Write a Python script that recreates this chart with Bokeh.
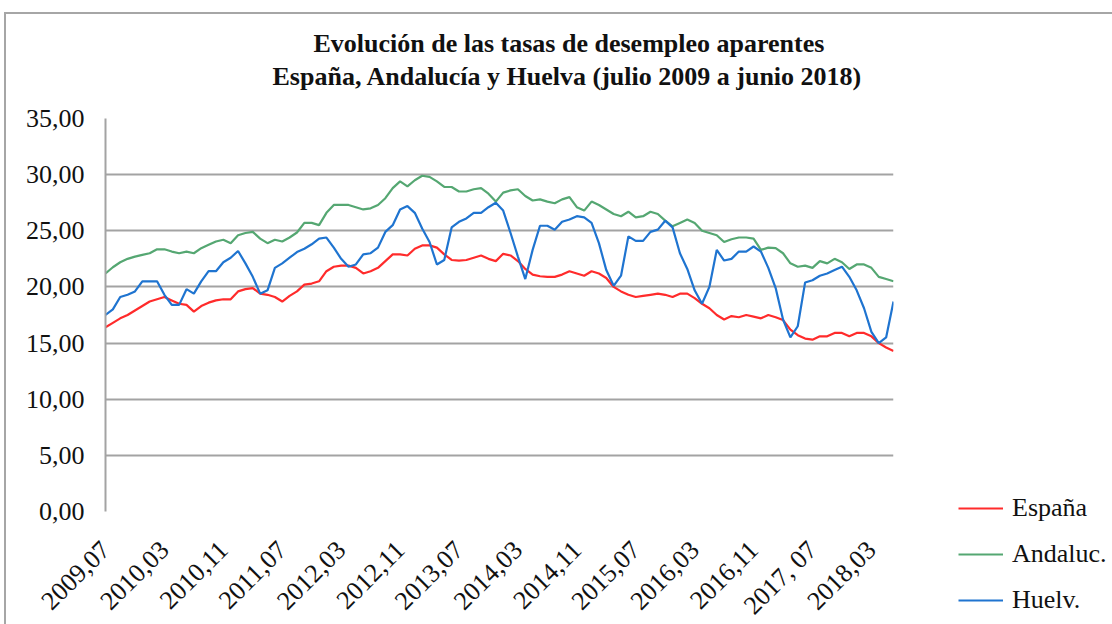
import math
from bokeh.plotting import figure
from bokeh.models import Range1d, FixedTicker, Legend, LegendItem, Title
from bokeh.embed import file_html
from bokeh.resources import INLINE

# ---- data (monthly, julio 2009 .. junio 2018) ----
espana = [16.4, 16.8, 17.2, 17.5, 17.9, 18.3, 18.7, 18.9, 19.1, 18.8,
          18.5, 18.4, 17.8, 18.3, 18.6, 18.8, 18.9, 18.9, 19.6, 19.8,
          19.9, 19.4, 19.3, 19.1, 18.7, 19.2, 19.6, 20.2, 20.3, 20.5,
          21.4, 21.8, 21.9, 21.9, 21.7, 21.2, 21.4, 21.7, 22.3, 22.9,
          22.9, 22.8, 23.4, 23.7, 23.7, 23.5, 22.9, 22.4, 22.35, 22.4,
          22.6, 22.8, 22.5, 22.3, 22.95, 22.8, 22.3, 21.6, 21.1, 20.95,
          20.9, 20.9, 21.1, 21.4, 21.2, 21.0, 21.4, 21.2, 20.8, 20.0,
          19.6, 19.3, 19.1, 19.2, 19.3, 19.4, 19.3, 19.1, 19.4, 19.4,
          19.0, 18.5, 18.1, 17.5, 17.1, 17.4, 17.3, 17.5, 17.35, 17.2,
          17.5, 17.3, 17.05, 16.2, 15.7, 15.4, 15.3, 15.6, 15.6, 15.9,
          15.9, 15.6, 15.9, 15.9, 15.6, 15.0, 14.6, 14.3]

andaluc = [21.2, 21.75, 22.2, 22.5, 22.7, 22.85, 23.0, 23.35, 23.35, 23.15,
           23.0, 23.15, 23.0, 23.45, 23.75, 24.05, 24.2, 23.9, 24.6, 24.8,
           24.9, 24.3, 23.9, 24.2, 24.05, 24.4, 24.85, 25.7, 25.7, 25.5,
           26.6, 27.3, 27.3, 27.3, 27.1, 26.9, 27.0, 27.3, 27.9, 28.8,
           29.4, 28.96, 29.5, 29.9, 29.8, 29.4, 28.9, 28.9, 28.5, 28.5,
           28.7, 28.8, 28.3, 27.6, 28.4, 28.6, 28.7, 28.1, 27.7, 27.8,
           27.6, 27.45, 27.8, 28.0, 27.1, 26.8, 27.6, 27.3, 26.9, 26.5,
           26.3, 26.7, 26.2, 26.3, 26.7, 26.5, 25.9, 25.4, 25.7, 26.0,
           25.7, 25.0, 24.8, 24.6, 24.0, 24.25, 24.4, 24.4, 24.3, 23.3,
           23.5, 23.45, 23.0, 22.1, 21.8, 21.9, 21.7, 22.3, 22.1, 22.5,
           22.2, 21.6, 22.0, 22.0, 21.7, 20.9, 20.7, 20.5]

huelva = [17.5, 18.0, 19.1, 19.3, 19.6, 20.5, 20.5, 20.5, 19.3, 18.4,
          18.4, 19.8, 19.4, 20.5, 21.4, 21.4, 22.2, 22.6, 23.2, 22.1,
          20.9, 19.4, 19.7, 21.7, 22.1, 22.6, 23.1, 23.4, 23.8, 24.3,
          24.4, 23.5, 22.5, 21.8, 22.0, 22.9, 23.0, 23.5, 24.9, 25.5,
          26.9, 27.2, 26.6, 25.2, 24.0, 22.0, 22.4, 25.3, 25.8, 26.1,
          26.6, 26.6, 27.1, 27.5, 26.8, 24.8, 22.7, 20.7, 23.3, 25.45,
          25.45, 25.1, 25.8, 26.0, 26.3, 26.2, 25.7, 23.9, 21.5, 20.1,
          21.0, 24.5, 24.1, 24.1, 24.9, 25.1, 25.9, 25.3, 23.0, 21.6,
          19.7, 18.5, 20.0, 23.3, 22.35, 22.5, 23.15, 23.15, 23.6, 23.15,
          21.7, 19.9, 17.1, 15.5, 16.5, 20.4, 20.6, 21.0, 21.2, 21.5,
          21.8, 20.9, 19.7, 18.1, 16.0, 15.0, 15.5, 18.7]

tick_labels = ["2009,07", "2010,03", "2010,11", "2011,07", "2012,03",
               "2012,11", "2013,07", "2014,03", "2014,11", "2015,07",
               "2016,03", "2016,11", "2017, 07", "2018,03"]
y_ticks = [0, 5, 10, 15, 20, 25, 30, 35]
series_names = ["España", "Andaluc.", "Huelv."]
series_colors = ["#ff2b2b", "#55a772", "#1f74d0"]
title_lines = ["Evolución de las tasas de desempleo aparentes",
               "España, Andalucía y Huelva (julio 2009 a  junio  2018)"]

x = list(range(len(espana)))
x_ticks = [i * 8 for i in range(len(tick_labels))]

FONT = "Liberation Serif"
TXT = "#111111"

p = figure(frame_width=788, frame_height=393, output_backend="svg", toolbar_location=None,
           x_range=Range1d(0, len(x) - 1), y_range=Range1d(0, 35),
           min_border_left=99, min_border_right=215, min_border_top=104,
           min_border_bottom=104)
p.styles = {"margin-left": "4px", "margin-top": "12px",
            "border-left": "2px solid #a6a6a6", "border-top": "2px solid #a6a6a6"}
p.outline_line_color = None
p.background_fill_color = "white"
p.border_fill_color = "white"

# grid
p.xgrid.grid_line_color = None
p.ygrid.grid_line_color = "#a3a3a3"
p.ygrid.grid_line_width = 2

# y axis
p.yaxis.ticker = FixedTicker(ticks=y_ticks)
p.yaxis.major_label_overrides = {t: f"{t},00" for t in y_ticks}
p.yaxis.axis_line_color = "#a3a3a3"
p.yaxis.axis_line_width = 2
p.yaxis.major_tick_line_color = None
p.yaxis.minor_tick_line_color = None
p.yaxis.major_label_standoff = 15
p.yaxis.major_label_text_font = FONT
p.yaxis.major_label_text_font_size = "26px"
p.yaxis.major_label_text_color = TXT

# x axis
p.xaxis.ticker = FixedTicker(ticks=x_ticks)
p.xaxis.major_label_overrides = {t: lab for t, lab in zip(x_ticks, tick_labels)}
p.xaxis.major_label_orientation = math.pi / 4
p.xaxis.axis_line_color = None
p.xaxis.major_tick_line_color = None
p.xaxis.minor_tick_line_color = None
p.xaxis.major_label_standoff = 28
p.xaxis.major_label_text_font = FONT
p.xaxis.major_label_text_font_size = "26px"
p.xaxis.major_label_text_color = TXT

renderers = []
for vals, c in zip([espana, andaluc, huelva], series_colors):
    r = p.line(x, vals, line_color=c, line_width=2.2)
    renderers.append(r)

legend = Legend(items=[LegendItem(label=n, renderers=[r]) for n, r in zip(series_names, renderers)],
                location=(65, -104), padding=0, margin=0, spacing=16,
                glyph_width=45, glyph_height=20, label_height=20,
                label_standoff=9, border_line_color=None,
                background_fill_alpha=0,
                label_text_font=FONT, label_text_font_size="26px",
                label_text_color=TXT)
p.add_layout(legend, "right")

# title: spacer closest to plot, then second line, then first line
p.add_layout(Title(text=" ", text_font_size="8px", standoff=16), "above")
p.add_layout(Title(text=title_lines[1], align="left", offset=167, standoff=2,
                   text_font=FONT, text_font_style="bold", text_font_size="26px",
                   text_color=TXT), "above")
p.add_layout(Title(text=title_lines[0], align="left", offset=208, standoff=2,
                   text_font=FONT, text_font_style="bold", text_font_size="26px",
                   text_color=TXT), "above")

open("out.html", "w").write(file_html(p, INLINE))
